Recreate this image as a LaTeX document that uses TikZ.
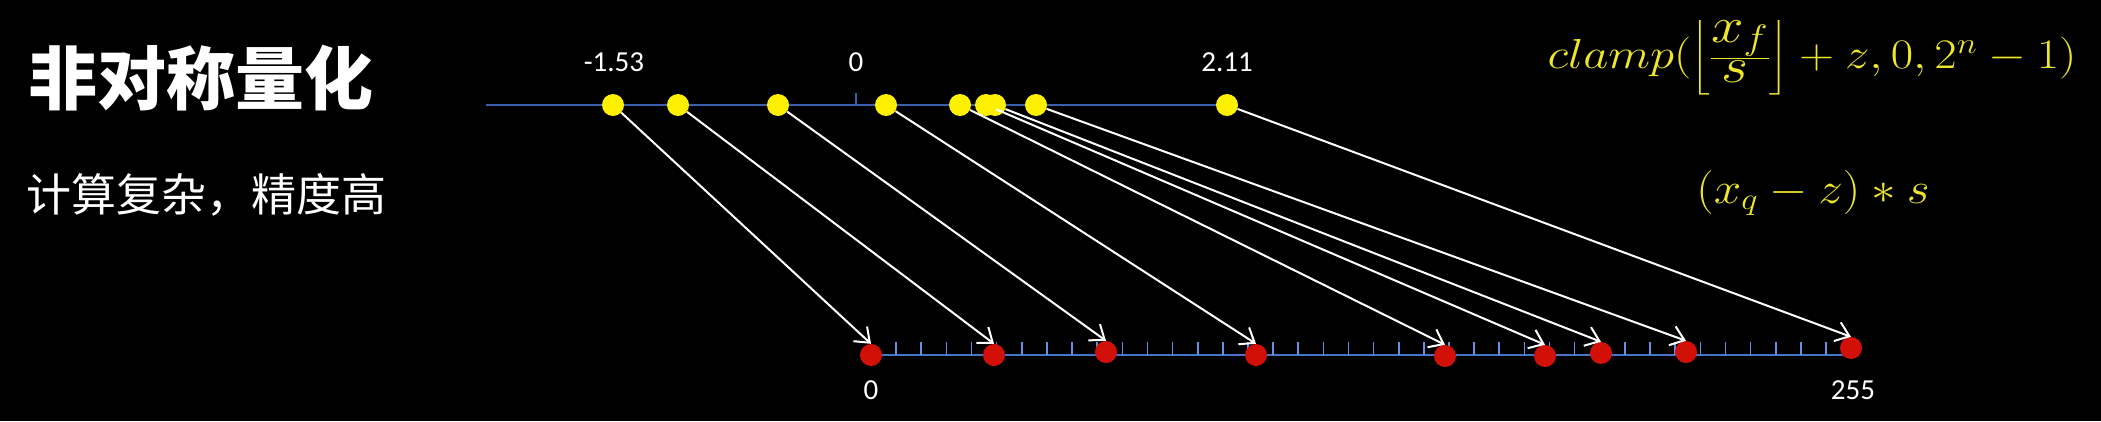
\RequirePackage{fix-cm}
\documentclass[tikz,border=0pt]{standalone}
\usepackage{fontspec}
\usepackage{amsmath}
\usepackage{graphicx}
\usetikzlibrary{arrows.meta}
\newfontfamily\cjk{Noto Sans CJK SC}
\newfontfamily\numfont{Carlito}
\definecolor{axisblue}{RGB}{60,94,172}
\definecolor{axisblueb}{RGB}{70,116,200}
\definecolor{tickblue}{RGB}{100,145,230}
\definecolor{dotyellow}{RGB}{255,240,0}
\definecolor{dotred}{RGB}{210,16,8}
\definecolor{mathyellow}{RGB}{238,230,40}
\newcommand{\bigpart}[1]{\scalebox{1.2}{$#1$}}
\tikzset{
  ydot/.style={circle,fill=dotyellow,inner sep=0pt,minimum size=22pt},
  rdot/.style={circle,fill=dotred,inner sep=0pt,minimum size=22pt},
  numlbl/.style={text=white,font=\numfont\fontsize{29}{34}\selectfont,inner sep=0pt},
  maparrow/.style={draw=white,line width=2pt,-{Straight Barb[length=13pt,width=20pt,line width=2pt]}},
  axisline/.style={line width=2.6pt}
}
\begin{document}
\begin{tikzpicture}[x=1pt,y=-1pt]
\fill[black] (0,0) rectangle (2101,421);
\useasboundingbox (0,0) rectangle (2101,421);
% titles
\node[anchor=west,text=white,inner sep=0pt,font=\cjk\bfseries\fontsize{69}{80}\selectfont] (title) at (28,78) {非对称量化};
\node[anchor=west,text=white,inner sep=0pt,font=\cjk\fontsize{45}{54}\selectfont] (sub) at (26,195) {计算复杂，精度高};
% formulas
\node[text=mathyellow,inner sep=0pt,font=\fontsize{42}{50}\selectfont] (f1) at (1812,58)
  {\scalebox{1.16}[1]{$clamp(\Bigl\lfloor\frac{\bigpart{x_f}}{\bigpart{s}}\Bigr\rfloor+z,0,2^n-1)$}};
\node[text=mathyellow,inner sep=0pt,font=\fontsize{44}{53}\selectfont] (f2) at (1813,193)
  {\scalebox{1.12}[1]{$(x_q-z)\ast s$}};
% top axis
\coordinate (ta) at (486,105);
\coordinate (tb) at (1227,105);
\draw[axisline,axisblue] (ta) -- (tb);
\coordinate (t0a) at (856,105);
\coordinate (t0b) at (856,93);
\draw[axisblue,line width=2pt] (t0a) -- (t0b);
\node[numlbl] (l153) at (614,62) {-1.53};
\node[numlbl] (l0) at (856,62) {0};
\node[numlbl] (l211) at (1227,62) {2.11};
% bottom axis
\coordinate (ba) at (871,355);
\coordinate (bb) at (1851,355);
\draw[axisline,axisblueb] (ba) -- (bb);
\foreach \k in {1,...,38} {
  \coordinate (tk\k a) at ({871+25.13*\k},355);
  \coordinate (tk\k b) at ({871+25.13*\k},342);
  \draw[tickblue,line width=1.6pt] (tk\k a) -- (tk\k b);
}
\node[numlbl] (b0) at (871,390) {0};
\node[numlbl] (b255) at (1853,390) {255};
% yellow dots
\node[ydot] (y1) at (613,105) {};
\node[ydot] (y2) at (678,105) {};
\node[ydot] (y3) at (778,105) {};
\node[ydot] (y4) at (886,105) {};
\node[ydot] (y5) at (960,105) {};
\node[ydot] (y6) at (986,105) {};
\node[ydot] (y7) at (995,105) {};
\node[ydot] (y8) at (1036,105) {};
\node[ydot] (y9) at (1227,105) {};
% red dots
\node[rdot] (r1) at (871,355) {};
\node[rdot] (r2) at (994,355) {};
\node[rdot] (r3) at (1106,352) {};
\node[rdot] (r4) at (1256,355) {};
\node[rdot] (r5) at (1445,356) {};
\node[rdot] (r6) at (1545,356) {};
\node[rdot] (r7) at (1601,353) {};
\node[rdot] (r8) at (1686,352) {};
\node[rdot] (r9) at (1851,348) {};
% arrows
\foreach \i in {1,...,9} {
  \draw[maparrow] (y\i) -- (r\i.north);
}
\end{tikzpicture}
\end{document}
